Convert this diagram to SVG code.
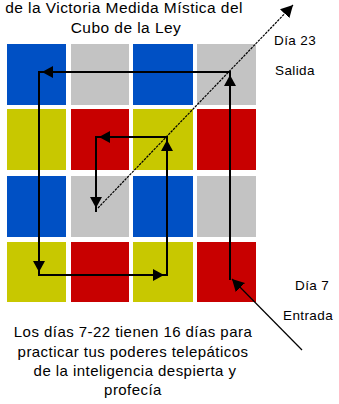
<svg xmlns="http://www.w3.org/2000/svg" width="339" height="404" viewBox="0 0 339 404">
  <style>
    .t { font-family: "Liberation Sans", Arial, sans-serif; fill: #000; }
    .title { font-size: 15.5px; text-anchor: middle; letter-spacing: 0.45px; }
    .note { font-size: 15px; text-anchor: middle; letter-spacing: 0.45px; }
    .lbl { font-size: 13.5px; letter-spacing: 0.4px; }
    .blue { fill: #0050C4; }
    .gray { fill: #C3C3C3; }
    .yellow { fill: #C8C800; }
    .red { fill: #C80000; }
    .path { stroke: #000; stroke-width: 2; fill: none; stroke-linecap: square; }
    .thin { stroke: #000; stroke-width: 1.2; fill: none; }
  </style>
  <defs>
    <!-- filled head, tip drawn 3px short of the segment end -->
    <marker id="headInset" markerUnits="userSpaceOnUse" markerWidth="16" markerHeight="12" refX="14" refY="6" orient="auto">
      <path d="M0,0 L11,6 L0,12 z" fill="#000"/>
    </marker>
    <marker id="headTip" markerUnits="userSpaceOnUse" markerWidth="14" markerHeight="13" refX="12" refY="6.5" orient="auto">
      <path d="M0,0 L12,6.5 L0,13 z" fill="#000"/>
    </marker>
  </defs>

  <rect width="339" height="404" fill="#fff"/>

  <!-- heading -->
  <g id="heading">
    <text class="t title" x="124" y="13">de la Victoria Medida Mística del</text>
    <text class="t title" x="126" y="33">Cubo de la Ley</text>
  </g>

  <!-- 4x4 colour grid -->
  <g id="grid">
    <g id="row1">
      <rect class="blue" x="7" y="44" width="59" height="61"/>
      <rect class="gray" x="71" y="44" width="58" height="61"/>
      <rect class="blue" x="133" y="44" width="60" height="61"/>
      <rect class="gray" x="197" y="44" width="59" height="61"/>
    </g>
    <g id="row2">
      <rect class="yellow" x="7" y="109" width="59" height="61"/>
      <rect class="red" x="71" y="109" width="58" height="61"/>
      <rect class="yellow" x="133" y="109" width="60" height="61"/>
      <rect class="red" x="197" y="109" width="59" height="61"/>
    </g>
    <g id="row3">
      <rect class="blue" x="7" y="176" width="59" height="61"/>
      <rect class="gray" x="71" y="176" width="58" height="61"/>
      <rect class="blue" x="133" y="176" width="60" height="61"/>
      <rect class="gray" x="197" y="176" width="59" height="61"/>
    </g>
    <g id="row4">
      <rect class="yellow" x="7" y="242" width="59" height="60"/>
      <rect class="red" x="71" y="242" width="58" height="60"/>
      <rect class="yellow" x="133" y="242" width="60" height="60"/>
      <rect class="red" x="197" y="242" width="59" height="60"/>
    </g>
  </g>

  <!-- spiral route, entry and exit lines -->
  <g id="connectors">
    <line class="thin" x1="302" y1="350" x2="232" y2="279" marker-end="url(#headTip)"/>
    <line class="path" x1="230" y1="279" x2="230" y2="72" marker-end="url(#headInset)"/>
    <line class="path" x1="230" y1="72" x2="39" y2="72" marker-end="url(#headInset)"/>
    <line class="path" x1="39" y1="72" x2="39" y2="275" marker-end="url(#headInset)"/>
    <line class="path" x1="39" y1="275" x2="167" y2="275" marker-end="url(#headInset)"/>
    <line class="path" x1="167" y1="275" x2="167" y2="137" marker-end="url(#headInset)"/>
    <line class="path" x1="167" y1="137" x2="96" y2="137" marker-end="url(#headInset)"/>
    <line class="path" x1="96" y1="137" x2="96" y2="211" marker-end="url(#headInset)"/>
    <line class="thin" x1="98" y1="208" x2="293" y2="5" stroke-dasharray="2.5 1" marker-end="url(#headTip)"/>
  </g>

  <!-- side labels -->
  <g id="exit-label">
    <text class="t lbl" x="274" y="45">Día 23</text>
    <text class="t lbl" x="275" y="75">Salida</text>
  </g>
  <g id="entry-label">
    <text class="t lbl" x="295" y="290">Día 7</text>
    <text class="t lbl" x="283" y="320">Entrada</text>
  </g>

  <!-- caption -->
  <g id="caption">
    <text class="t note" x="133" y="337">Los días 7-22 tienen 16 días para</text>
    <text class="t note" x="133" y="357">practicar tus poderes telepáticos</text>
    <text class="t note" x="135" y="376">de la inteligencia despierta y</text>
    <text class="t note" x="133" y="395">profecía</text>
  </g>
</svg>
